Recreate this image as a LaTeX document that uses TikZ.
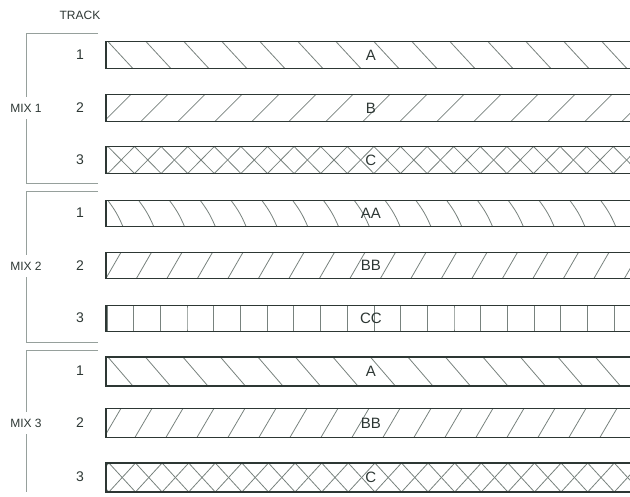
\documentclass[tikz,border=0pt]{standalone}
\usepackage{fontspec}
\setmainfont{Liberation Sans}
\usetikzlibrary{positioning}
\definecolor{ink}{RGB}{45,55,52}
\definecolor{hatchgrey}{RGB}{120,130,126}
\definecolor{rulegrey}{RGB}{150,160,156}
\tikzset{
    line cap=round,
    line join=round,
    bar/.style={
        rectangle,
        draw=ink,
        line width=1.8pt,
        anchor=west,
        minimum width=530pt,
        minimum height=#1,
        inner sep=0pt,
        font=\fontsize{15}{15}\selectfont,
        text=ink
    },
    hatchline/.style={
        draw=hatchgrey,
        line width=0.8pt
    },
    % one family of slanted (or upright) lines: spacing, offset, slant, bend
    hatch/.style n args={4}{
        path picture={
            \foreach \k in {-1,...,20}{
                \draw[hatchline] ([xshift=#2+\k*#1]path picture bounding box.north west)
                    to[bend left=#4] ([xshift=#2+\k*#1+#3]path picture bounding box.south west);
            }
        }
    },
    % diamond cross hatch: spacing, offset
    cross/.style n args={2}{
        path picture={
            \foreach \k in {-1,...,22}{
                \draw[hatchline] ([xshift=#2+\k*#1]path picture bounding box.north west)
                    -- ([xshift=#2+\k*#1+#1]path picture bounding box.south west);
                \draw[hatchline] ([xshift=#2+\k*#1]path picture bounding box.north west)
                    -- ([xshift=#2+\k*#1-#1]path picture bounding box.south west);
            }
        }
    },
    tracklabel/.style={
        font=\fontsize{14}{14}\selectfont,
        text=ink
    },
    mixlabel/.style={
        font=\fontsize{12}{12}\selectfont,
        text=ink,
        inner xsep=1pt,
        inner ysep=7pt
    },
    bracket/.style={
        draw=rulegrey,
        line width=1pt
    }
}

\begin{document}
\begin{tikzpicture}[x=1pt, y=-1pt]

\path[use as bounding box, clip] (0,0) rectangle (630,496);

% Header
\node[mixlabel, inner ysep=0pt] (track) at (80,15) {TRACK};

% Mix 1
\node[mixlabel] (mix1) at (26,108) {MIX 1};
\node[tracklabel] (t11) at (80,55) {1};
\node[tracklabel] (t12) at (80,108) {2};
\node[tracklabel] (t13) at (80,160) {3};

\node[bar=27pt, hatch={38pt}{2pt}{25pt}{0}] (m1a) at (105,55) {A};
\node[bar=27pt, hatch={37pt}{25pt}{-27pt}{0}] (m1b) at (105,108) {B};
\node[bar=27pt, cross={26.6pt}{2pt}] (m1c) at (105,160) {C};

\coordinate (m1top) at (98,33);
\coordinate (m1bot) at (98,183);
\draw[bracket] (m1top) -| (mix1.north);
\draw[bracket] (m1bot) -| (mix1.south);

% Mix 2
\node[mixlabel] (mix2) at (26,266) {MIX 2};
\node[tracklabel] (t21) at (80,213) {1};
\node[tracklabel] (t22) at (80,266) {2};
\node[tracklabel] (t23) at (80,318) {3};

\node[bar=26pt, hatch={30.8pt}{2pt}{15pt}{7}] (m2a) at (105,213.5) {AA};
\node[bar=26pt, hatch={30.5pt}{15pt}{-15pt}{0}] (m2b) at (105,265.5) {BB};
\node[bar=26pt, hatch={26.7pt}{1pt}{0pt}{0}] (m2c) at (105,318.5) {CC};

\coordinate (m2top) at (98,191);
\coordinate (m2bot) at (98,342);
\draw[bracket] (m2top) -| (mix2.north);
\draw[bracket] (m2bot) -| (mix2.south);

% Mix 3
\node[mixlabel] (mix3) at (26,423) {MIX 3};
\node[tracklabel] (t31) at (80,371) {1};
\node[tracklabel] (t32) at (80,423) {2};
\node[tracklabel] (t33) at (80,477) {3};

\node[bar=29pt, hatch={37.5pt}{2pt}{25pt}{0}] (m3a) at (105,371.5) {A};
\node[bar=29pt, hatch={31pt}{15pt}{-17pt}{0}] (m3b) at (105,423) {BB};
\node[bar=29pt, cross={26.6pt}{3pt}] (m3c) at (105,477.5) {C};

\coordinate (m3top) at (98,350);
\coordinate (m3end) at (26,492);
\draw[bracket] (m3top) -| (mix3.north);
\draw[bracket] (mix3.south) -- (m3end);

\end{tikzpicture}
\end{document}
